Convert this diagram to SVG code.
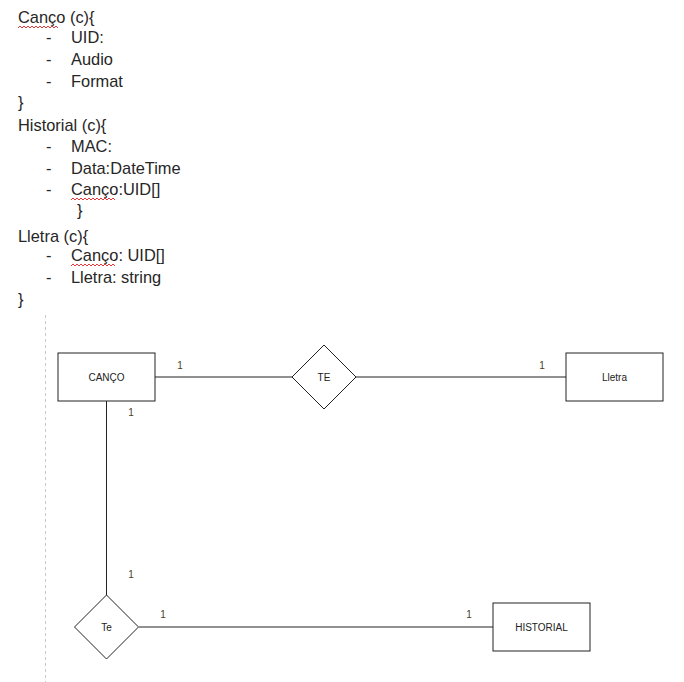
<svg xmlns="http://www.w3.org/2000/svg" width="684" height="682" viewBox="0 0 684 682">
<defs>
<style>
.doc{font-family:"Liberation Sans",Arial,sans-serif;font-size:16.4px;fill:#262626}
.lbl{font-family:"Liberation Sans",Arial,sans-serif;font-size:10px;fill:#222;text-anchor:middle;dominant-baseline:central}
.card{font-family:"Liberation Sans",Arial,sans-serif;font-size:10px;fill:#4a3f1a;text-anchor:middle;dominant-baseline:central}
.shape{fill:#fff;stroke:#222;stroke-width:1}
.conn{stroke:#222;stroke-width:1;fill:none}
.squig{stroke:#e02020;stroke-width:0.9;fill:none}
</style>
</defs>
<rect width="684" height="682" fill="#fff"/>
<g id="text">
<text class="doc" x="18" y="23">Canço (c){</text>
<text class="doc" x="46" y="43">-</text><text class="doc" x="71" y="43">UID:</text>
<text class="doc" x="46" y="65">-</text><text class="doc" x="71" y="65">Audio</text>
<text class="doc" x="46" y="87">-</text><text class="doc" x="71" y="87">Format</text>
<text class="doc" x="18" y="108">}</text>
<text class="doc" x="18" y="131">Historial (c){</text>
<text class="doc" x="46" y="152">-</text><text class="doc" x="71" y="152">MAC:</text>
<text class="doc" x="46" y="174">-</text><text class="doc" x="71" y="174">Data:DateTime</text>
<text class="doc" x="46" y="195">-</text><text class="doc" x="71" y="195">Canço:UID[]</text>
<text class="doc" x="77" y="216">}</text>
<text class="doc" x="18" y="242">Lletra (c){</text>
<text class="doc" x="46" y="261">-</text><text class="doc" x="71" y="261">Canço: UID[]</text>
<text class="doc" x="46" y="283">-</text><text class="doc" x="71" y="283">Lletra: string</text>
<text class="doc" x="18" y="305">}</text>
<path class="squig" d="M18 28 l2 -2 l2 2 l2 -2 l2 2 l2 -2 l2 2 l2 -2 l2 2 l2 -2 l2 2 l2 -2 l2 2 l2 -2 l2 2 l2 -2 l2 2 l2 -2 l2 2 l2 -2 l2 2"/>
<path class="squig" d="M71 200 l2 -2 l2 2 l2 -2 l2 2 l2 -2 l2 2 l2 -2 l2 2 l2 -2 l2 2 l2 -2 l2 2 l2 -2 l2 2 l2 -2 l2 2 l2 -2 l2 2 l2 -2 l2 2 l2 -2 l2 2"/>
<path class="squig" d="M71 266 l2 -2 l2 2 l2 -2 l2 2 l2 -2 l2 2 l2 -2 l2 2 l2 -2 l2 2 l2 -2 l2 2 l2 -2 l2 2 l2 -2 l2 2 l2 -2 l2 2 l2 -2 l2 2 l2 -2 l2 2"/>
</g>
<line x1="45.5" y1="315" x2="45.5" y2="682" stroke="#c8c8c8" stroke-width="1" stroke-dasharray="3 3"/>
<g id="connectors">
<line class="conn" x1="155" y1="377" x2="292" y2="377"/>
<line class="conn" x1="356" y1="377" x2="566" y2="377"/>
<line class="conn" x1="106.5" y1="401" x2="106.5" y2="595"/>
<line class="conn" x1="139" y1="627" x2="493" y2="627"/>
<text class="card" x="180" y="365">1</text>
<text class="card" x="542" y="365">1</text>
<text class="card" x="131" y="412">1</text>
<text class="card" x="131" y="574">1</text>
<text class="card" x="163" y="614">1</text>
<text class="card" x="469" y="614">1</text>
</g>
<g id="canco">
<rect class="shape" x="58" y="353" width="97" height="48"/>
<text class="lbl" x="106.5" y="377">CANÇO</text>
</g>
<g id="te1">
<polygon class="shape" points="324,345 356,377 324,409 292,377"/>
<text class="lbl" x="324" y="377">TE</text>
</g>
<g id="lletra">
<rect class="shape" x="566" y="353" width="97" height="48"/>
<text class="lbl" x="614.5" y="377">Lletra</text>
</g>
<g id="te2">
<polygon class="shape" points="106.5,595 138.5,627 106.5,659 74.5,627"/>
<text class="lbl" x="106.5" y="627">Te</text>
</g>
<g id="historial">
<rect class="shape" x="493" y="603" width="97" height="48"/>
<text class="lbl" x="541.5" y="627">HISTORIAL</text>
</g>
</svg>
